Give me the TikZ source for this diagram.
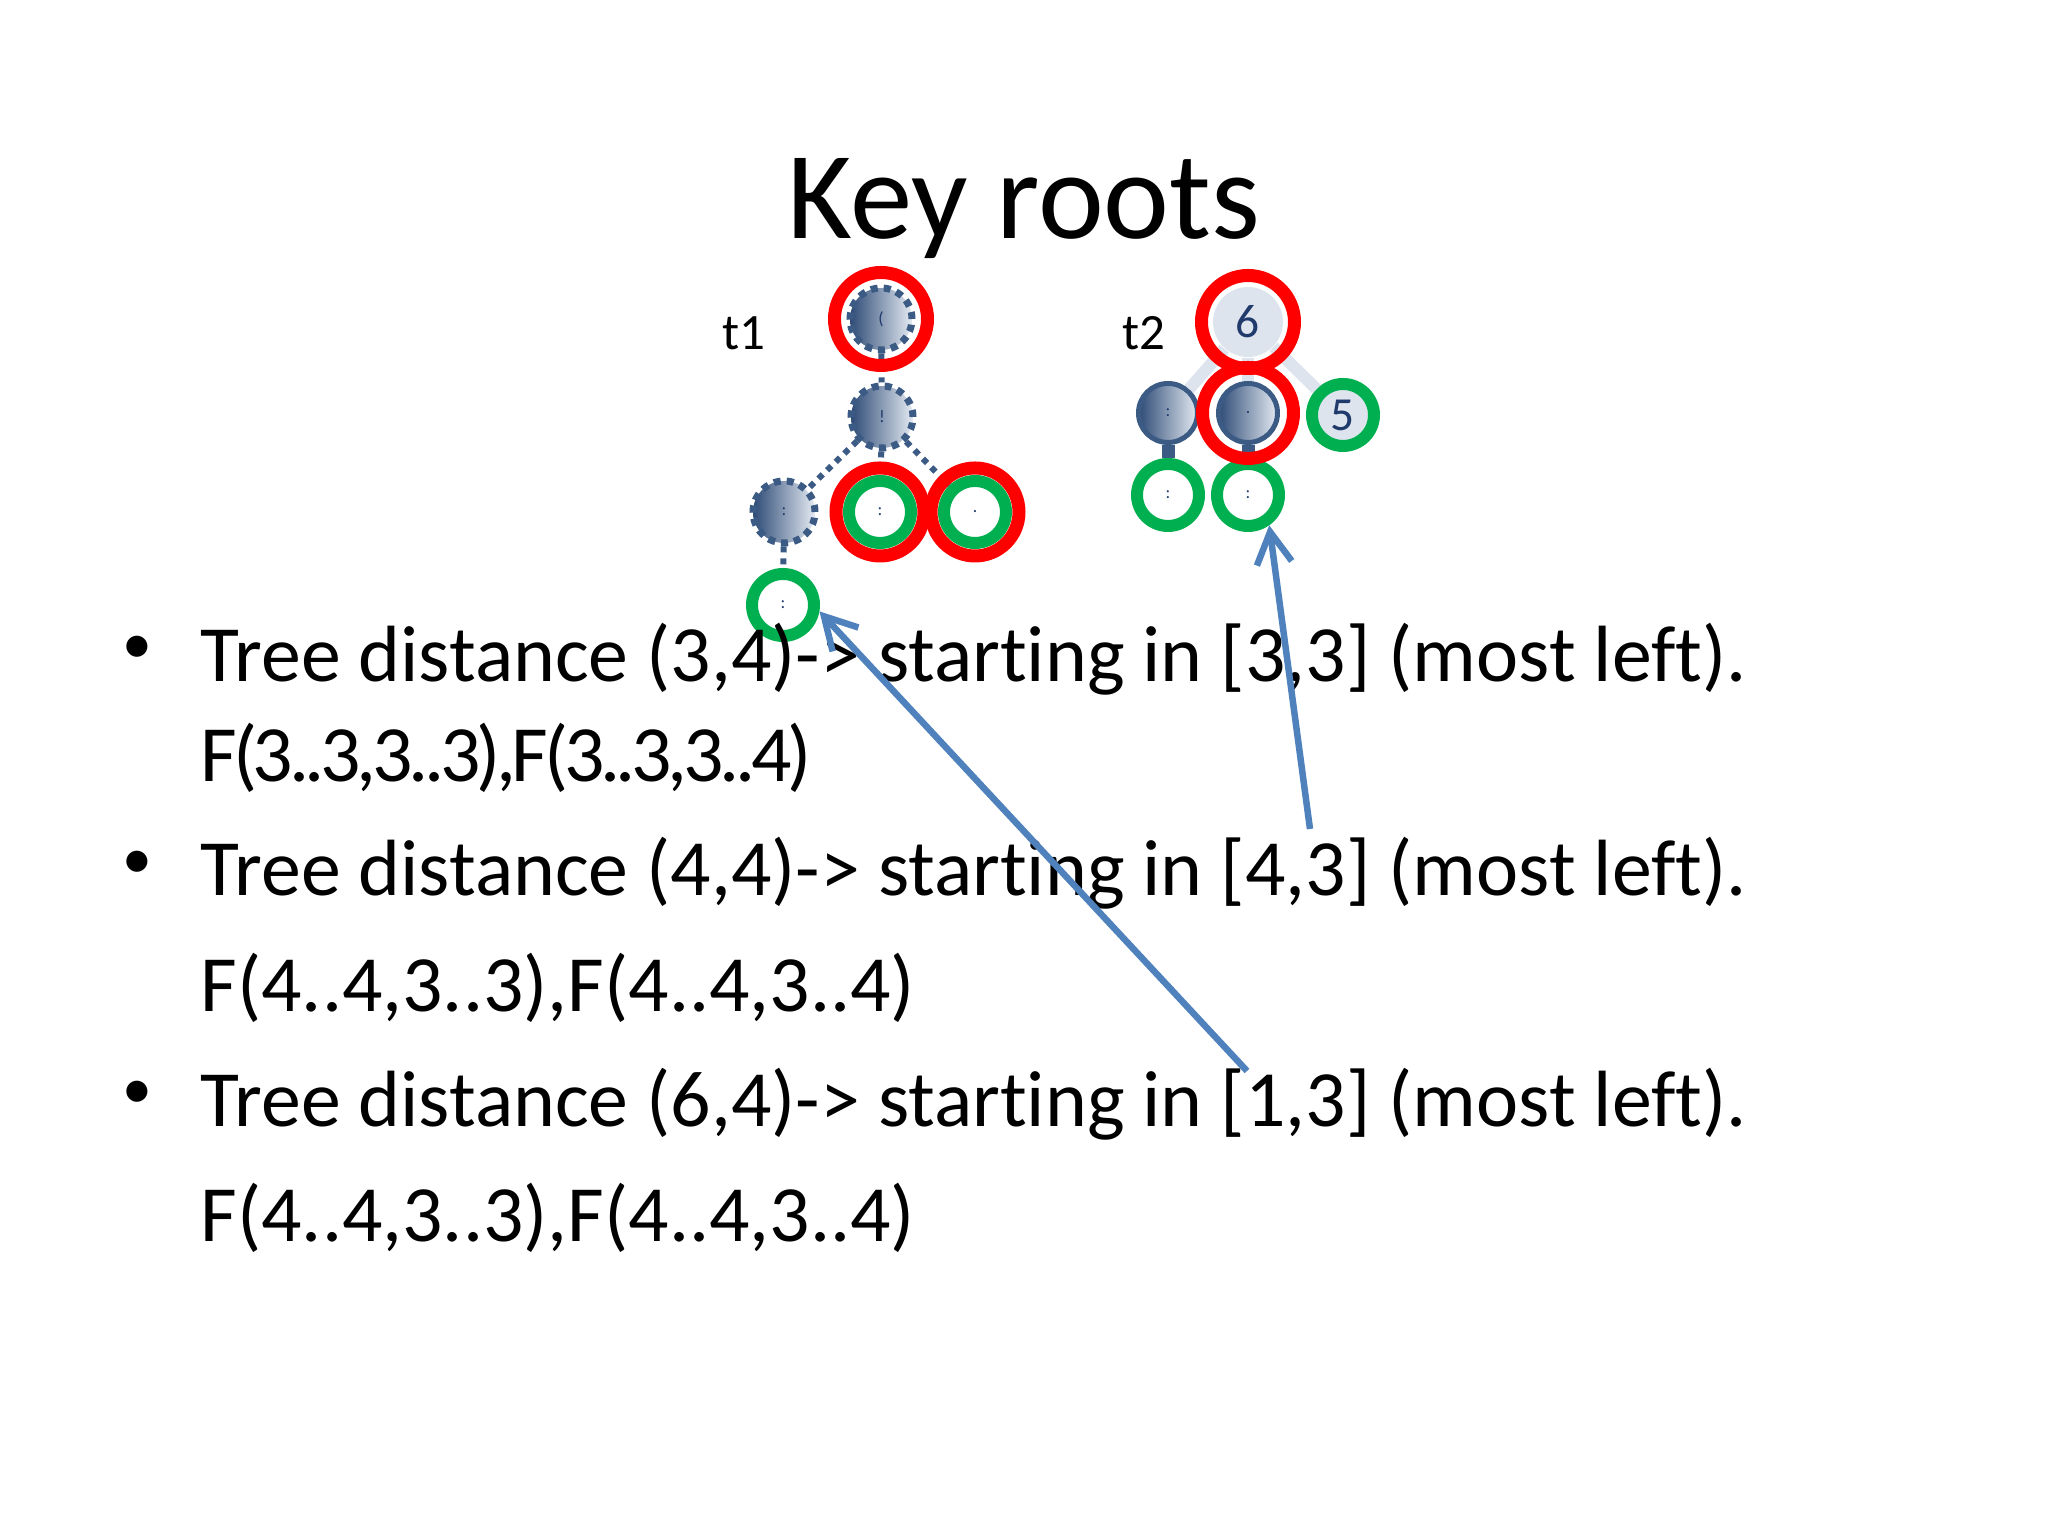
\documentclass[tikz,border=0pt]{standalone}
\usepackage{fontspec}
\setmainfont{Carlito}[Ligatures=NoCommon]
\usetikzlibrary{arrows.meta}

\definecolor{keyred}{HTML}{FF0000}
\definecolor{leafgreen}{HTML}{00B050}
\definecolor{arrowblue}{HTML}{4F81BD}
\definecolor{nodedark}{HTML}{2E4B76}
\definecolor{nodelight}{HTML}{E4EAF2}
\definecolor{edgeblue}{HTML}{3B5A84}
\definecolor{paleblue}{HTML}{DDE4EE}
\definecolor{numnavy}{HTML}{1F3A6B}

\begin{document}
\begin{tikzpicture}[
    t1node/.style={circle, minimum size=0.62cm, inner sep=0pt, left color=nodedark, right color=nodelight, draw=edgeblue, line width=0.07cm, dash pattern=on 0.07cm off 0.06cm, text=numnavy, font=\fontsize{5}{5}\selectfont},
    t2node/.style={circle, minimum size=0.59cm, inner sep=0pt, left color=nodedark, right color=nodelight, draw=edgeblue, line width=0.05cm, text=numnavy, font=\fontsize{5}{5}\selectfont},
    leaf/.style={circle, minimum size=0.62cm, inner sep=0pt, draw=leafgreen, line width=0.12cm, fill=white, text=numnavy, font=\fontsize{5}{5}\selectfont},
    numnode/.style={circle, minimum size=0.70cm, inner sep=0pt, fill=paleblue, text=numnavy, font=\fontsize{13.5}{16}\selectfont},
    keyring/.style={draw=keyred, line width=0.13cm},
    dotedge/.style={draw=edgeblue, line width=0.06cm, dash pattern=on 0.06cm off 0.06cm},
    paleedge/.style={draw=paleblue, line width=0.12cm},
    stemedge/.style={draw=edgeblue, line width=0.13cm},
    tdarrow/.style={draw=arrowblue, line width=0.065cm, -{Straight Barb[length=9pt, width=10pt]}},
    bodytext/.style={anchor=base west, inner sep=0pt, font=\fontsize{22.7}{27}\selectfont},
    bullet/.style={inner sep=0pt, font=\fontsize{17}{20}\selectfont}
]
\useasboundingbox (0,0) rectangle (20.48,15.36);

\node[anchor=base] (title) at (10.24,12.97) {\fontsize{35.5}{42}\selectfont Key roots};

% tree t1
\node[font=\fontsize{14.5}{17}\selectfont] (lab1) at (7.44,12.03) {t1};
\node[t1node] (t1n6) at (8.81,12.17) {(};
\node[t1node] (t1n5) at (8.82,11.19) {!};
\node[t1node] (t1n2) at (7.84,10.24) {:};
\node[leaf] (t1n3) at (8.80,10.24) {:};
\node[leaf] (t1n4) at (9.75,10.24) {.};
\node[leaf] (t1n1) at (7.83,9.31) {:};
\draw[dotedge] (t1n6) -- (t1n5);
\draw[dotedge] (t1n5) -- (t1n2);
\draw[dotedge] (t1n5) -- (t1n3);
\draw[dotedge] (t1n5) -- (t1n4);
\draw[dotedge] (t1n2) -- (t1n1);
\draw[keyring] (t1n6) circle (0.465);
\draw[keyring] (t1n3) circle (0.44);
\draw[keyring] (t1n4) circle (0.44);

% tree t2
\node[font=\fontsize{14.5}{17}\selectfont] (lab2) at (11.44,12.03) {t2};
\node[numnode] (t2n6) at (12.48,12.14) {6};
\node[t2node] (t2n2) at (11.68,11.23) {:};
\node[t2node] (t2n4) at (12.48,11.23) {.};
\node[leaf, fill=paleblue, font=\fontsize{13.5}{16}\selectfont] (t2n5) at (13.43,11.21) {5};
\node[leaf] (t2n1) at (11.68,10.41) {:};
\node[leaf] (t2n3) at (12.48,10.41) {:};
\draw[paleedge] (t2n6) -- (t2n2);
\draw[paleedge] (t2n6) -- (t2n4);
\draw[paleedge] (t2n6) -- (t2n5);
\draw[stemedge] (t2n2) -- (t2n1);
\draw[stemedge] (t2n4) -- (t2n3);
\draw[keyring] (t2n6) circle (0.465);
\draw[keyring] (t2n4) circle (0.455);

% bullet text
\node[bullet] (b1) at (1.37,8.86) {•};
\node[bodytext] (line1) at (2.00,8.54) {Tree distance (3,4)-> starting in [3,3] (most left).};
\node[bodytext] (forest1) at (2.00,7.54) {\addfontfeatures{LetterSpace=-5.4}F(3..3,3..3),F(3..3,3..4)};
\node[bullet] (b2) at (1.37,6.71) {•};
\node[bodytext] (line2) at (2.00,6.40) {Tree distance (4,4)-> starting in [4,3] (most left).};
\node[bodytext] (forest2) at (2.00,5.24) {F(4..4,3..3),F(4..4,3..4)};
\node[bullet] (b3) at (1.37,4.41) {•};
\node[bodytext] (line3) at (2.00,4.09) {Tree distance (6,4)-> starting in [1,3] (most left).};
\node[bodytext] (forest3) at (2.00,2.94) {F(4..4,3..3),F(4..4,3..4)};

% arrows
\coordinate (tail1) at (12.47,4.65);
\coordinate (tail2) at (13.10,7.07);
\draw[tdarrow] (tail1) -- (t1n1.-10);
\draw[tdarrow] (tail2) -- (t2n3.-55);
\end{tikzpicture}
\end{document}
